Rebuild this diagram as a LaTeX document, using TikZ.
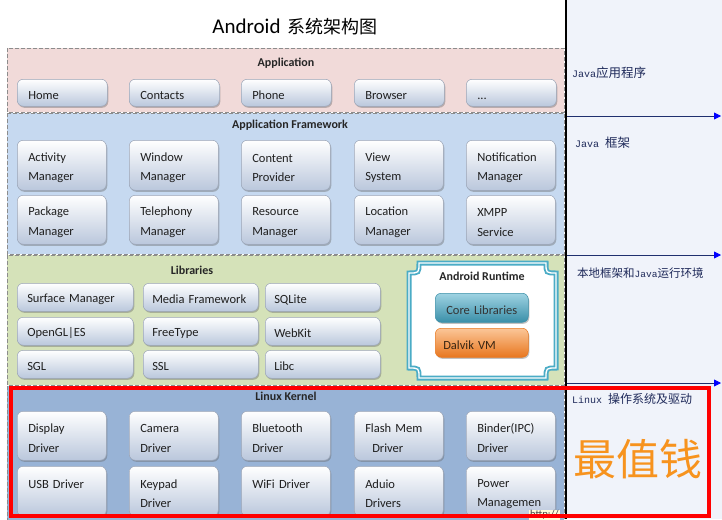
\documentclass[tikz,border=0pt]{standalone}
\usepackage{fontspec}
\setmainfont{Carlito}
\newfontfamily\cjk{Noto Sans CJK SC}
\newfontfamily\monof{Liberation Mono}
\usetikzlibrary{shadows,arrows.meta}
\definecolor{appfill}{HTML}{F1DAD9}
\definecolor{fwfill}{HTML}{C6D9F0}
\definecolor{libfill}{HTML}{D5E2B9}
\definecolor{krnfill}{HTML}{98B3D6}
\definecolor{dashgray}{HTML}{8C8C8C}
\definecolor{boxbot}{HTML}{BAC7DC}
\definecolor{boxborder}{HTML}{9AA4B6}
\definecolor{rtteal}{HTML}{4BACC6}
\definecolor{coretop}{HTML}{9FD3E2}
\definecolor{corebot}{HTML}{3A8FA8}
\definecolor{dvtop}{HTML}{FBC698}
\definecolor{dvbot}{HTML}{E8771F}
\definecolor{panel}{HTML}{F0F3FA}
\definecolor{navyline}{HTML}{1F2F6E}
\definecolor{rtext}{HTML}{1F2A5A}
\definecolor{orng}{HTML}{F7931E}
\begin{document}
\begin{tikzpicture}[x=1pt,y=-1pt,
  layer/.style={draw=dashgray, dash pattern=on 4pt off 2pt, line width=0.7pt},
  lbl/.style={font=\fontsize{12}{14}\selectfont\bfseries, text=black!85},
  box/.style={rounded corners=6pt, draw=boxborder, line width=0.5pt,
    top color=white, bottom color=boxbot,
    drop shadow={shadow xshift=1pt, shadow yshift=-1.5pt, opacity=0.4, fill=black!60},
    anchor=north west, inner xsep=11pt, inner ysep=0pt, align=left,
    execute at begin node={\rule{0pt}{13.5pt}},
    font=\fontsize{12.5}{19.5}\selectfont, text=black!88},
  rtxt/.style={anchor=west, inner sep=0pt, text=rtext},
  arr/.style={draw=navyline, line width=0.8pt, -{Triangle[length=7pt,width=7pt,color=blue,fill=blue]}}
]
\useasboundingbox (0,0) rectangle (722,519);
\fill[white] (0,0) rectangle (722,519);
% right panel
\fill[panel] (566,0) rectangle (722,519);
% layers
\path[layer, fill=appfill] (7,48) rectangle (564,112);
\path[layer, fill=fwfill] (7,113) rectangle (564,254);
\path[layer, fill=libfill] (7,255) rectangle (564,385);
\path[layer, fill=krnfill] (7,386) rectangle (564,522);
% title
\node (title) at (295,27) {\fontsize{21}{24}\selectfont Android\hspace{7pt}{\cjk\fontsize{18}{20}\selectfont 系统架构图}};
% layer labels
\node[lbl] (lapp) at (286,63) {Application};
\node[lbl] (lfw) at (290,125) {Application Framework};
\node[lbl] (llib) at (192,270) {Libraries};
\node[lbl] (lkrn) at (286,396) {Linux Kernel};
% application boxes
\foreach \x/\t [count=\i] in {17/Home,129/Contacts,241/Phone,354/Browser,466/{...}}
  \node[box, minimum height=27pt, text width=68pt] (app\i) at (\x,79) {\t};
% framework
\foreach \x/\t [count=\i] in {17/{Activity\\Manager},129/{Window\\Manager},241/{Content\\Provider},354/{View\\System},466/{Notification\\Manager}}
  \node[box, minimum height=50pt, text width=67pt] (fwa\i) at (\x,140) {\t};
\foreach \x/\t [count=\i] in {17/{Package\\Manager},129/{Telephony\\Manager},241/{Resource\\Manager},354/{Location\\Manager},466/{XMPP\\Service}}
  \node[box, minimum height=49pt, text width=67pt] (fwb\i) at (\x,195) {\t};
% libraries
\foreach \y/\ta/\tb/\tc [count=\i] in {283/Surface Manager/Media Framework/SQLite,317/OpenGL{\textbar}ES/FreeType/WebKit,350/SGL/SSL/Libc}{
  \node[box, inner xsep=10pt, minimum height=28pt, text width=96pt] (liba\i) at (17,\y) {\ta};
  \node[box, inner xsep=9pt, minimum height=28pt, text width=97pt] (libb\i) at (143,\y) {\tb};
  \node[box, inner xsep=9pt, minimum height=28pt, text width=97pt] (libc\i) at (265,\y) {\tc};
}
% android runtime frame
\path[fill=white, draw=rtteal, line width=5pt] (419,263) -- (546,263) .. controls (546,273) .. (556,273) -- (556,368) .. controls (546,368) .. (546,378) -- (419,378) .. controls (419,368) .. (409,368) -- (409,273) .. controls (419,273) .. (419,263) -- cycle;
\path[draw=white, line width=1.3pt] (419,263) -- (546,263) .. controls (546,273) .. (556,273) -- (556,368) .. controls (546,368) .. (546,378) -- (419,378) .. controls (419,368) .. (409,368) -- (409,273) .. controls (419,273) .. (419,263) -- cycle;
\node[lbl] (lrt) at (482,276) {Android Runtime};
\node[box, top color=coretop, bottom color=corebot, draw=corebot, align=center, inner xsep=4pt, minimum height=29pt, text width=85pt, text=black!80] (core) at (435,293) {Core Libraries};
\node[box, top color=dvtop, bottom color=dvbot, draw=dvbot, inner xsep=8pt, minimum height=29pt, text width=77pt, text={black!70!brown}] (dalvik) at (435,328) {Dalvik VM};
% kernel
\foreach \x/\t [count=\i] in {17/{Display\\Driver},129/{Camera\\Driver},241/{Bluetooth\\Driver},354/{Flash Mem\\\hspace*{7pt}Driver},466/{Binder(IPC)\\Driver}}
  \node[box, minimum height=49pt, text width=67pt] (krna\i) at (\x,411) {\t};
\foreach \x/\t [count=\i] in {17/{USB Driver\\\mbox{}},129/{Keypad\\Driver},241/{WiFi Driver\\\mbox{}},354/{Aduio\\Drivers},466/{Power\\Managemen}}
  \node[box, minimum height=50pt, text width=67pt] (krnb\i) at (\x,466) {\t};
% watermark fragment
\begin{scope}
\clip (520,506) rectangle (566,519);
\node[anchor=west, inner sep=1pt, fill=yellow!15, text=black!75, font=\fontsize{10.5}{12}\selectfont] (wm) at (529,515) {http://};
\end{scope}
% vertical divider
\coordinate (vtop) at (566,0);
\coordinate (vbot) at (566,519);
\draw[black, line width=1.2pt] (vtop) -- (vbot);
% red frame
\draw[red, line width=4pt] (10.5,388) rectangle (709,516);
% right panel texts
\node[rtxt] (r1) at (572,73) {{\monof\fontsize{10}{12}\selectfont Java}{\cjk\fontsize{12.5}{14}\selectfont 应用程序}};
\node[rtxt] (r2) at (575,143) {{\monof\fontsize{10}{12}\selectfont Java }{\cjk\fontsize{12.5}{14}\selectfont 框架}};
\node[rtxt] (r3) at (577,273) {{\cjk\fontsize{11.5}{14}\selectfont 本地框架和}{\monof\fontsize{9.5}{12}\selectfont Java}{\cjk\fontsize{11.5}{14}\selectfont 运行环境}};
\node[rtxt] (r4) at (572,399) {{\monof\fontsize{10}{12}\selectfont Linux }{\cjk\fontsize{12}{14}\selectfont 操作系统及驱动}};
\node[text=orng, inner sep=0pt] (zuizhi) at (638,459) {\cjk\fontsize{43}{46}\selectfont 最值钱};
% arrows
\coordinate (a1s) at (567,116); \coordinate (a1e) at (721,116);
\coordinate (a2s) at (567,255); \coordinate (a2e) at (721,255);
\coordinate (a3s) at (567,383); \coordinate (a3e) at (721,383);
\draw[arr] (a1s) -- (a1e);
\draw[arr] (a2s) -- (a2e);
\draw[arr] (a3s) -- (a3e);
\end{tikzpicture}
\end{document}
